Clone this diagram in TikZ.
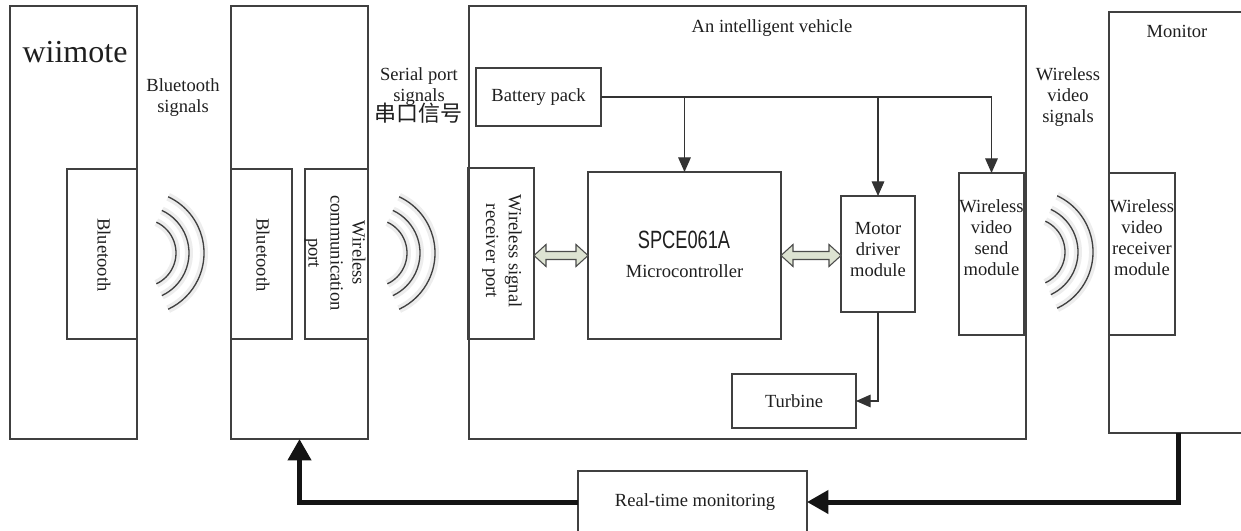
\documentclass[tikz,border=0pt]{standalone}
\usepackage{fontspec}
\setmainfont{Liberation Serif}
\newfontfamily\cjkfont{Noto Sans CJK SC}
\newfontfamily\spcefont{Liberation Sans}
\usetikzlibrary{arrows.meta,calc}
\newcommand\pxl[1]{#1*0.75pt}
\definecolor{dblfill}{HTML}{DDE3D2}
\begin{document}
\begin{tikzpicture}[x=0.75pt,y=-0.75pt,
 box/.style={draw=black!75, line width=0.8pt, inner sep=0pt, outer sep=0pt, anchor=north west},
 lbl/.style={text=black!88, font=\fontsize{13.9pt}{15.75pt}\selectfont, align=center, inner sep=0pt},
 vlbl/.style={lbl, rotate=-90},
 wire/.style={draw=black!80, line width=0.8pt},
 tip/.style={wire, -{Triangle[length=11pt,width=9.5pt]}},
 fat/.style={draw=black!92, line width=3.75pt, -{Triangle[length=16pt,width=17pt]}},
 dbl/.style={draw=black!70, line width=0.8pt, fill=dblfill, line join=miter},
 wave/.style={draw=black!75, line width=1pt},
 halo/.style={draw=black!7, line width=6pt}]
\useasboundingbox (0,0) rectangle (1241,531);
\clip (0,0) rectangle (1241,531);
\fill[white] (0,0) rectangle (1241,531);

% ---- wiimote
\node[box, minimum width=\pxl{127}, minimum height=\pxl{433}] (wii) at (10,6) {};
\node[lbl, font=\fontsize{24pt}{26pt}\selectfont] (wiit) at (75,52) {wiimote};
\node[box, minimum width=\pxl{70}, minimum height=\pxl{170}] (bt1) at (67,169) {};
\node[vlbl] (bt1t) at (104,255) {Bluetooth};

\node[lbl] (bsig) at (183,98) {Bluetooth\\signals};

% ---- serial/bluetooth adapter
\node[box, minimum width=\pxl{137}, minimum height=\pxl{433}] (b2) at (231,6) {};
\node[box, minimum width=\pxl{61}, minimum height=\pxl{170}] (bt2) at (231,169) {};
\node[vlbl] (bt2t) at (263,255) {Bluetooth};
\node[box, minimum width=\pxl{63}, minimum height=\pxl{170}] (wcp) at (305,169) {};
\node[vlbl, font=\fontsize{13.9pt}{16.5pt}\selectfont] (wcpt) at (335,253) {Wireless\\communication\\port};

\node[lbl] (ssig) at (419,87) {Serial port\\signals};
\node[lbl, font=\cjkfont\fontsize{16.5pt}{18pt}\selectfont] (cjk) at (418,113) {串口信号};

% ---- vehicle
\node[box, minimum width=\pxl{557}, minimum height=\pxl{433}] (veh) at (469,6) {};
\node[lbl] (veht) at (772,28) {An intelligent vehicle};
\node[box, minimum width=\pxl{125}, minimum height=\pxl{58}] (bat) at (476,68) {};
\node[lbl] (batt) at (538.5,97) {Battery pack};
\node[box, minimum width=\pxl{66}, minimum height=\pxl{171}] (rx) at (468,168) {};
\node[vlbl, font=\fontsize{13.9pt}{17pt}\selectfont] (rxt) at (502,251) {Wireless signal\\receiver port};
\node[box, minimum width=\pxl{193}, minimum height=\pxl{167}] (mc) at (588,172) {};
\node[inner sep=0pt, text=black!88] (spce) at (684,240) {\scalebox{0.73}[1]{\spcefont\fontsize{18.75pt}{20pt}\selectfont SPCE061A}};
\node[lbl] (mct) at (684.5,271) {Microcontroller};
\node[box, minimum width=\pxl{74}, minimum height=\pxl{116}] (mo) at (841,196) {};
\node[lbl] (mot) at (878,250) {Motor\\driver\\module};
\node[box, minimum width=\pxl{65}, minimum height=\pxl{162}] (vs) at (959,173) {};
\node[lbl] (vst) at (991.5,238) {Wireless\\video\\send\\module};
\node[box, minimum width=\pxl{124}, minimum height=\pxl{54}] (tu) at (732,374) {};
\node[lbl] (tut) at (794,401) {Turbine};

\node[lbl] (vsig) at (1068,97) {Wireless\\video\\signals};

% ---- monitor
\node[box, minimum width=\pxl{160}, minimum height=\pxl{421}] (mon) at (1109,12) {};
\node[lbl] (mont) at (1177,31) {Monitor};
\node[box, minimum width=\pxl{66}, minimum height=\pxl{162}] (vr) at (1109,173) {};
\node[lbl] (vrt) at (1142,238) {Wireless\\video\\receiver\\module};

% ---- real-time monitoring
\node[box, minimum width=\pxl{229}, minimum height=\pxl{62}] (rt) at (578,471) {};
\node[lbl] (rtt) at (695,502) {Real-time monitoring};

% ---- waves
\foreach \cx/\cy in {142/253, 373/253, 1031/252}{
  \foreach \r in {34,47,62}{
    \draw[halo] (\cx,\cy) ++(-65:\r) arc[start angle=-65,end angle=65,radius=\r];
  }
}
\foreach \cx/\cy in {142/253, 373/253, 1031/252}{
  \foreach \r in {34,47,62}{
    \draw[wave] (\cx,\cy) ++(-65:\r) arc[start angle=-65,end angle=65,radius=\r];
  }
}

% ---- power distribution
\draw[wire] (bat.east) -- (vs.north |- bat.east);
\draw[tip] (mc.north |- bat.east) -- (mc.north);
\draw[tip] (mo.north |- bat.east) -- (mo.north);
\draw[tip] (vs.north |- bat.east) -- (vs.north);
\draw[tip] (mo.south) |- (tu.east);

% ---- double arrows
\coordinate (a1) at (rx.east |- mc.west);
\coordinate (b1) at (mc.west);
\coordinate (a2) at (mc.east);
\coordinate (b2e) at (mo.west |- mc.east);
\foreach \p/\q in {a1/b1, a2/b2e}{
  \filldraw[dbl] (\p) -- ($(\p)+(12,-11)$) -- ($(\p)+(12,-4)$) -- ($(\q)+(-12,-4)$) -- ($(\q)+(-12,-11)$) -- (\q)
    -- ($(\q)+(-12,11)$) -- ($(\q)+(-12,4)$) -- ($(\p)+(12,4)$) -- ($(\p)+(12,11)$) -- cycle;
}

% ---- feedback loop
\coordinate (mon0) at ($(mon.south west)+(69,0)$);
\draw[fat] (mon0) |- (rt.east);
\draw[fat] (rt.west) -| (b2.south);
\end{tikzpicture}
\end{document}
